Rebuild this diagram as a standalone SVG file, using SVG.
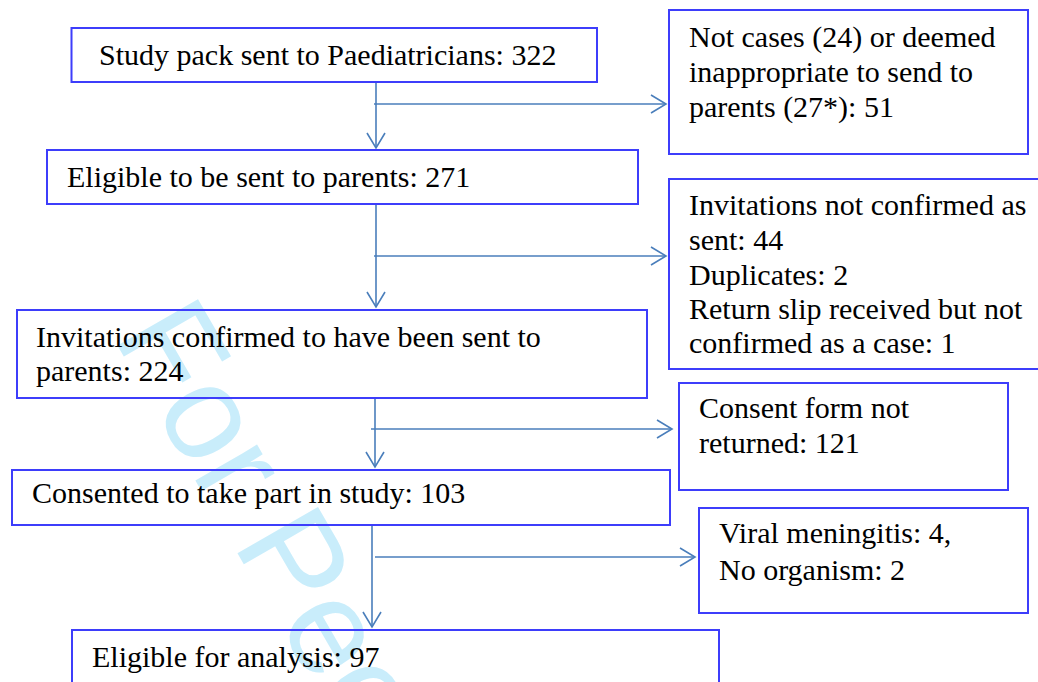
<svg xmlns="http://www.w3.org/2000/svg" width="1038" height="682" viewBox="0 0 1038 682">
<style>
.box{fill:none;stroke:#3d3dfb;stroke-width:2}
.t{font-family:'Liberation Serif','Times New Roman',Times,serif;font-size:30px;fill:#000}
.c{fill:none;stroke:#4a7ebb;stroke-width:1.6}
.wm{font-family:'Liberation Sans',Arial,sans-serif;font-size:135px;fill:#c9edfb}
</style>
<defs>
<marker id="ah" markerWidth="20" markerHeight="20" refX="16" refY="10" orient="auto" markerUnits="userSpaceOnUse" viewBox="0 0 20 20">
<path d="M1,1 L16,10 L1,19" fill="none" stroke="#4a7ebb" stroke-width="1.6"/>
</marker>
</defs>
<rect width="1038" height="682" fill="#fff"/>
<text class="wm" transform="translate(112,336) rotate(60)">For Peer</text>
<g id="connectors">
<path class="c" d="M376,83 V148" marker-end="url(#ah)"/>
<path class="c" d="M374,104 H666" marker-end="url(#ah)"/>
<path class="c" d="M376,205 V307" marker-end="url(#ah)"/>
<path class="c" d="M374,256 H666" marker-end="url(#ah)"/>
<path class="c" d="M375,399 V467" marker-end="url(#ah)"/>
<path class="c" d="M371,429 H672" marker-end="url(#ah)"/>
<path class="c" d="M372,526 V627" marker-end="url(#ah)"/>
<path class="c" d="M375,557 H695" marker-end="url(#ah)"/>
</g>
<g id="n1"><rect class="box" x="71.5" y="28" width="525.5" height="54"/>
<text class="t" x="99" y="65">Study pack sent to Paediatricians: 322</text></g>
<g id="n2"><rect class="box" x="669" y="10" width="359" height="144"/>
<text class="t" x="689" y="47">Not cases (24) or deemed</text>
<text class="t" x="689" y="82">inappropriate to send to</text>
<text class="t" x="689" y="117">parents (27*): 51</text></g>
<g id="n3"><rect class="box" x="47" y="150" width="591" height="54"/>
<text class="t" x="67" y="187">Eligible to be sent to parents: 271</text></g>
<g id="n4"><rect class="box" x="669" y="179" width="371" height="190"/>
<text class="t" x="689" y="215">Invitations not confirmed as</text>
<text class="t" x="689" y="250">sent: 44</text>
<text class="t" x="689" y="285">Duplicates: 2</text>
<text class="t" x="689" y="319">Return slip received but not</text>
<text class="t" x="689" y="353">confirmed as a case: 1</text></g>
<g id="n5"><rect class="box" x="17" y="310" width="630" height="88"/>
<text class="t" x="36" y="347">Invitations confirmed to have been sent to</text>
<text class="t" x="36" y="381">parents: 224</text></g>
<g id="n6"><rect class="box" x="679" y="383" width="329" height="107"/>
<text class="t" x="699" y="418">Consent form not</text>
<text class="t" x="699" y="453">returned: 121</text></g>
<g id="n7"><rect class="box" x="12" y="470" width="658" height="55"/>
<text class="t" x="32" y="503">Consented to take part in study: 103</text></g>
<g id="n8"><rect class="box" x="699" y="508" width="329" height="105"/>
<text class="t" x="719" y="543">Viral meningitis: 4,</text>
<text class="t" x="719" y="580">No organism: 2</text></g>
<g id="n9"><rect class="box" x="72" y="630" width="647" height="70"/>
<text class="t" x="92" y="667">Eligible for analysis: 97</text></g>
</svg>
